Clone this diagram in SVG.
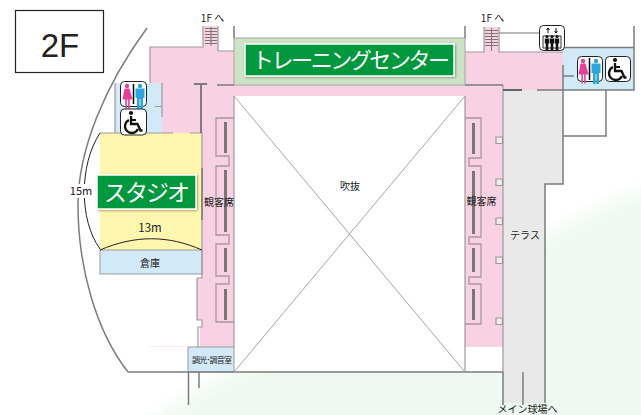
<svg xmlns="http://www.w3.org/2000/svg" width="641" height="415" viewBox="0 0 641 415">
<defs>
<style>
text{font-family:"Noto Sans CJK JP","Liberation Sans",sans-serif;fill:#222}
.w{fill:none;stroke:#7c7c7c;stroke-width:1.5}
.t{fill:none;stroke:#a0989c;stroke-width:1.2}
.b{fill:none;stroke:#777;stroke-width:3}
.seat{fill:none;stroke:#a8979f;stroke-width:1.3}
.sq{fill:#f4e8ed;stroke:#999;stroke-width:1.2}
.icon{fill:#fff;stroke:#222;stroke-width:1}
.lbl{fill:#fff}
.rung{stroke:#777;stroke-width:1;fill:none}
</style>
<g id="f"><circle cx="0" cy="-9" r="2.200" fill="#e8409a"/><path d="M-2.500-6.500h5l3 11h-2.800v9h-1.600v-9h-1.200v9h-1.600v-9h-2.800z" fill="#e8409a"/></g>
<g id="m"><circle cx="0" cy="-9" r="2.200" fill="#27a7dd"/><path d="M-4.500-6.500h9v9.500h-1.500v11h-2.600v-10h-.8v10h-2.600v-11h-1.500z" fill="#27a7dd"/></g>
<g id="wh"><circle cx="-2" cy="-10" r="2.100" fill="#111"/><path d="M-2-7v8h6.500l3 6.500h2" fill="none" stroke="#111" stroke-width="2.300"/><path d="M-2-3h5" stroke="#111" stroke-width="2"/><path d="M-4-3a6.800 6.800 0 1 0 9 9" fill="none" stroke="#111" stroke-width="2.300"/></g>
<g id="p"><circle cx="0" cy="-6.500" r="1.600" fill="#111"/><path d="M-2.200-4.500h4.400v5h-.9v6.500h-2.600v-6.500h-.9z" fill="#111"/></g>
<filter id="sh" x="-5%" y="-10%" width="110%" height="125%"><feDropShadow dx="1" dy="1" stdDeviation="1" flood-color="#000" flood-opacity=".35"/></filter>
<filter id="soft" x="-10%" y="-10%" width="120%" height="120%"><feGaussianBlur stdDeviation="9"/></filter>
</defs>
<rect width="641" height="415" fill="#fff"/>
<path d="M130 440C230 345 420 310 510 255C570 225 610 195 670 185V440Z" fill="#eefaf1" filter="url(#soft)"/>
<g id="floor">
<rect x="100" y="274" width="403" height="98" fill="#fff"/>
<path d="M150 47H203V26H218V51H234V85H465V52H484V27H499V52H563V90H503V347H465V96H234V372H200V327H202V320H197V278H202V133H162V83H150Z" fill="#f8d2e3"/>
<rect x="234" y="38" width="231" height="47" fill="#cde3c6" stroke="#a3a3a3" stroke-width="1"/>
<path d="M234 96H465V372H234Z" fill="#fff"/>
<path d="M503 90H563V184H545V403H503Z" fill="#e9e9e9"/>
<path d="M563 47.500H634V90H563Z" fill="#d2e9f7"/>
<path d="M115 83H162V133H115Z" fill="#d2e9f7"/>
<rect x="100" y="133" width="102" height="117" fill="#fdf6ae"/>
<rect x="100" y="250" width="102" height="24" fill="#d2e9f7" stroke="#999" stroke-width="1"/>
<rect x="188" y="347" width="46" height="25" fill="#d2e9f7" stroke="#999" stroke-width="1"/>
</g>
<g id="walls">
<path class="t" d="M150 83V47H203V26M218 26V51H234"/>
<path class="t" d="M465 52H484V27M499 27V52H563"/>
<path class="t" d="M234 96V347M465 96V372M503 85V372M197 278V320H202V327H198V347M197 278H202V274M115 83V133"/>
<path class="t" d="M162 83V117M155 106.500H162M100 133H173M190 133H202V274"/>
<path d="M150 346.500H188" stroke="#fde8f0" stroke-width="1"/>
<path class="w" d="M234 26V38M465 26V38M634 26V90H563M563 47.500H634M563 65V184H545V403M503 372V405M523 372V405M128 372H503M188.500 372V405M199 372V388M606 90V136H563M465 85H503M537 90H563"/>
<path d="M503 90H522" stroke="#666" stroke-width="2"/>
<path d="M202 168V220" stroke="#777" stroke-width="1.500"/>
<path class="w" d="M147 28C105 85 78 150 78 205C78 265 95 330 128 372"/>
<path d="M100 133C79 165 79 220 100 249M100 250C135 235 168 235 202 250" fill="none" stroke="#222" stroke-width="1"/>
<path d="M194 84H207M201 84V133" fill="none" stroke="#7c7c7c" stroke-width="2"/>
<path d="M217 85H234M563 76H574" fill="none" stroke="#7c7c7c" stroke-width="1.500"/>
<path d="M234 96L465 372M465 96L234 372" stroke="#a5a5a5" stroke-width="1" fill="none"/>
<path class="rung" d="M205 28.500h12M205 31.500h12M205 34.500h12M205 37.500h12M205 40.500h12M205 43.500h12M211 27V46M485 30.500h13M485 33.500h13M485 36.500h13M485 39.500h13M485 42.500h13M485 45.500h13M491.500 28V51M499 33H539"/>
</g>
<g id="seats">
<path class="seat" d="M234 118H216V156H229V166H216V235H229V244H216V276H229V284H216V322H234"/>
<path class="seat" d="M465 118H481V158H469V166H481V237H469V244H481V277H469V284H481V324H465"/>
<path class="b" d="M225.500 122V153M225.500 170V232M225.500 248V272M225.500 289V320M473.500 123V154M473.500 171V234M473.500 248V272M473.500 289V320"/>
<path class="sq" d="M496 137h6.500v6.500h-6.500zM496 179h6.500v6.500h-6.500zM496 218h6.500v6.500h-6.500zM496 257h6.500v6.500h-6.500zM496 318h6.500v6.500h-6.500z"/>
</g>
<g id="title"><rect x="15.500" y="10.500" width="88" height="62" fill="#fff" stroke="#222" stroke-width="1.200"/><text x="60" y="57" font-size="33" text-anchor="middle" style="font-family:'Liberation Sans'">2F</text></g>
<g id="studio"><rect x="97" y="175" width="99" height="34" fill="#05983e" stroke="#fff" stroke-width="1.500" filter="url(#sh)"/><text class="lbl" x="147" y="201" font-size="23" text-anchor="middle" textLength="86">スタジオ</text></g>
<g id="training"><rect x="245" y="44" width="209" height="32" fill="#05983e" stroke="#fff" stroke-width="1.500" filter="url(#sh)"/><text class="lbl" x="351" y="68" font-size="22" text-anchor="middle" textLength="198">トレーニングセンター</text></g>
<g id="labels" font-size="10">
<rect x="69" y="184" width="25" height="14" fill="#fff"/>
<text x="212.500" y="22" text-anchor="middle">1F へ</text>
<text x="492.500" y="22" text-anchor="middle">1F へ</text>
<text x="81" y="195" text-anchor="middle" font-size="11">15m</text>
<text x="150" y="232" text-anchor="middle" font-size="11.500">13m</text>
<text x="150" y="267" text-anchor="middle">倉庫</text>
<text x="350" y="190" text-anchor="middle">吹抜</text>
<text x="219" y="206" text-anchor="middle">観客席</text>
<text x="481.500" y="205" text-anchor="middle">観客席</text>
<text x="525" y="239" text-anchor="middle">テラス</text>
<text x="212" y="363" text-anchor="middle" font-size="8" textLength="40">調光･調音室</text>
<text x="527.500" y="413" text-anchor="middle">メイン球場へ</text>
</g>
<g id="wc-left"><rect class="icon" x="120.500" y="81.500" width="26" height="25" rx="4"/><use href="#f" x="127" y="95"/><use href="#m" x="140" y="95"/><path d="M133.500 84v20" stroke="#000" stroke-width="1.500"/></g>
<g id="wheel-left"><rect class="icon" x="120.500" y="109" width="26" height="26" rx="4"/><use href="#wh" x="133" y="123"/></g>
<g id="elevator"><rect class="icon" x="539.500" y="25.500" width="25" height="25" rx="4"/><path d="M543 36h18v12h-18z" fill="none" stroke="#333"/><use href="#p" x="547" y="43"/><use href="#p" x="552" y="43"/><use href="#p" x="557" y="43"/><path d="M548 28v5M546.500 30l1.500-2 1.500 2M556 28v5M554.500 31l1.500 2 1.500-2" stroke="#111" fill="none"/></g>
<g id="wc-right"><rect class="icon" x="577.500" y="56.500" width="25" height="25" rx="4"/><use href="#f" x="583" y="70"/><use href="#m" x="596" y="70"/><path d="M589.500 58v22" stroke="#000" stroke-width="1.500"/></g>
<g id="wheel-right"><rect class="icon" x="605.500" y="56.500" width="25" height="25" rx="4"/><use href="#wh" x="617" y="70"/></g>
</svg>
